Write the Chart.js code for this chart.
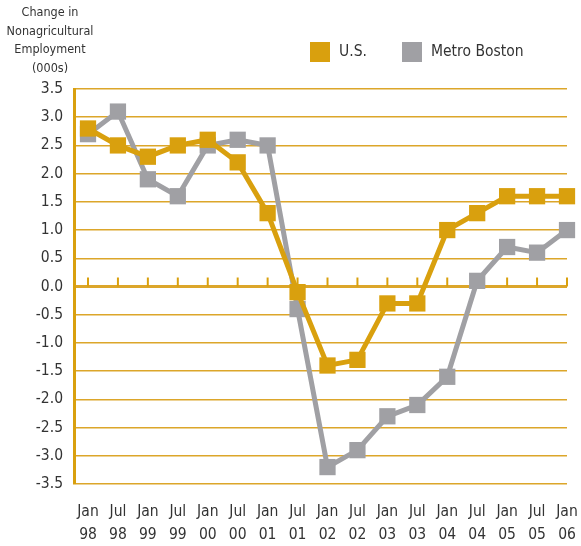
<!DOCTYPE html>
<html>
<head>
<meta charset="utf-8">
<script src="https://cdn.jsdelivr.net/npm/chart.js@4"></script>
<style>
  html, body { margin: 0; padding: 0; background: #fff; }
  #wrap { width: 581px; height: 546px; }
</style>
</head>
<body>
<div id="wrap"><canvas id="chart"></canvas></div>
<script>
// data
const months = ['Jan', 'Jul', 'Jan', 'Jul', 'Jan', 'Jul', 'Jan', 'Jul', 'Jan', 'Jul', 'Jan', 'Jul', 'Jan', 'Jul', 'Jan', 'Jul', 'Jan'];
const years = ['98', '98', '99', '99', '00', '00', '01', '01', '02', '02', '03', '03', '04', '04', '05', '05', '06'];
const usValues = [2.8, 2.5, 2.3, 2.5, 2.6, 2.2, 1.3, -0.1, -1.4, -1.3, -0.3, -0.3, 1.0, 1.3, 1.6, 1.6, 1.6];
const bostonValues = [2.7, 3.1, 1.9, 1.6, 2.5, 2.6, 2.5, -0.4, -3.2, -2.9, -2.3, -2.1, -1.6, 0.1, 0.7, 0.6, 1.0];
const yTitle = ['Change in', 'Nonagricultural', 'Employment', '(000s)'];
const seriesNames = ['U.S.', 'Metro Boston'];

const gold = '#d9a00e';
const grey = '#a0a0a4';
const gridGold = '#dca62a';
const textCol = '#333333';
const fontFam = '"DejaVu Sans Condensed", "Liberation Sans", sans-serif';

function pts(vals) {
  return vals.map((v, i) => ({ x: i, y: v }));
}

// small ticks standing on the zero line, the y title and the legend
const extras = {
  id: 'extras',
  beforeDatasetsDraw(chart) {
    const c = chart.ctx, xs = chart.scales.x, ys = chart.scales.y;
    const y0 = ys.getPixelForValue(0);
    c.save();
    c.strokeStyle = gold;
    c.lineWidth = 2;
    for (let i = 0; i < months.length; i++) {
      const x = xs.getPixelForValue(i);
      c.beginPath();
      c.moveTo(x, y0);
      c.lineTo(x, y0 - 9);
      c.stroke();
    }
    c.restore();
  },
  afterDraw(chart) {
    const c = chart.ctx;
    c.save();
    c.fillStyle = textCol;
    c.font = '12.5px ' + fontFam;
    c.textAlign = 'center';
    c.textBaseline = 'middle';
    yTitle.forEach((t, i) => c.fillText(t, 50, 13 + i * 18.5));

    const cols = [gold, grey];
    const boxX = [310, 402];
    c.font = '15.5px ' + fontFam;
    c.textAlign = 'left';
    seriesNames.forEach((n, i) => {
      c.fillStyle = cols[i];
      c.fillRect(boxX[i], 42, 20, 20);
      c.fillStyle = textCol;
      c.fillText(n, boxX[i] + 29, 52);
    });
    c.restore();
  }
};

new Chart(document.getElementById('chart'), {
  type: 'line',
  data: {
    datasets: [{
      label: seriesNames[0],
      data: pts(usValues),
      borderColor: gold,
      backgroundColor: gold,
      borderWidth: 5,
      pointStyle: 'rect',
      pointRadius: 11.5,
      pointHoverRadius: 11.5,
      pointBorderWidth: 0,
      tension: 0,
      clip: false
    }, {
      label: seriesNames[1],
      data: pts(bostonValues),
      borderColor: grey,
      backgroundColor: grey,
      borderWidth: 5,
      pointStyle: 'rect',
      pointRadius: 11.5,
      pointHoverRadius: 11.5,
      pointBorderWidth: 0,
      tension: 0,
      clip: false
    }]
  },
  options: {
    responsive: true,
    maintainAspectRatio: false,
    animation: false,
    layout: { padding: { top: 89, right: 14, left: 0, bottom: 0 } },
    plugins: {
      legend: { display: false },
      tooltip: { enabled: false }
    },
    scales: {
      x: {
        type: 'linear',
        min: -0.4676,
        max: 16,
        afterBuildTicks: s => { s.ticks = months.map((m, i) => ({ value: i })); },
        afterFit: s => { s.height = 62; },
        grid: { display: true, drawOnChartArea: false, color: 'rgba(0,0,0,0)', tickLength: 14 },
        border: { display: false },
        ticks: {
          autoSkip: false,
          maxRotation: 0,
          padding: 2,
          color: textCol,
          font: { family: fontFam, size: 15.5, lineHeight: 1.5 },
          callback: v => [months[v], years[v]]
        }
      },
      y: {
        min: -3.5,
        max: 3.5,
        afterFit: s => { s.width = 74; },
        grid: {
          color: gridGold,
          lineWidth: ctx => (ctx.tick && ctx.tick.value === 0 ? 3 : 1.5),
          drawTicks: false
        },
        border: { color: gold, width: 3 },
        ticks: {
          stepSize: 0.5,
          padding: 11,
          color: textCol,
          font: { family: fontFam, size: 15.5 },
          callback: v => v.toFixed(1)
        }
      }
    }
  },
  plugins: [extras]
});
</script>
</body>
</html>
